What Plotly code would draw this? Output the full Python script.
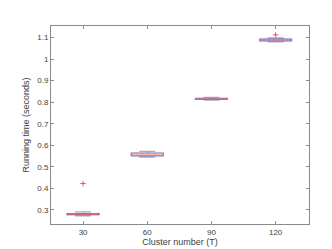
import plotly.graph_objects as go

categories = ["30", "60", "90", "120"]
q1 = [0.277, 0.551, 0.813, 1.085]
median = [0.279, 0.555, 0.815, 1.089]
q3 = [0.282, 0.563, 0.818, 1.093]
lower_whisker = [0.272, 0.545, 0.810, 1.080]
upper_whisker = [0.290, 0.571, 0.822, 1.099]
outlier_cat = ["30", "120"]
outlier_val = [0.422, 1.113]

pos = list(range(1, len(categories) + 1))
idx = {c: i + 1 for i, c in enumerate(categories)}
half = 0.25

fig = go.Figure()
# whiskers
fig.add_trace(go.Box(
    x=pos, q1=q1, median=median, q3=q3,
    lowerfence=lower_whisker, upperfence=upper_whisker,
    width=0.5, whiskerwidth=0.5,
    line=dict(color="rgba(90,90,90,0.5)", width=1.2),
    fillcolor="rgba(0,0,0,0)", boxpoints=False, showlegend=False,
    hoverinfo="skip",
))
# blue box outlines
bx, by = [], []
for p, a, b in zip(pos, q1, q3):
    bx += [p - half, p + half, p + half, p - half, p - half, None]
    by += [a, a, b, b, a, None]
fig.add_trace(go.Scatter(x=bx, y=by, mode="lines",
                         line=dict(color="rgba(40,40,255,0.55)", width=1),
                         fill="toself", fillcolor="rgba(255,255,255,1)",
                         showlegend=False, hoverinfo="skip"))
# red medians
mx, my = [], []
for p, m in zip(pos, median):
    mx += [p - half, p + half, None]
    my += [m, m, None]
fig.add_trace(go.Scatter(x=mx, y=my, mode="lines",
                         line=dict(color="rgba(255,70,70,0.7)", width=1),
                         showlegend=False, hoverinfo="skip"))
# outliers
fig.add_trace(go.Scatter(x=[idx[c] for c in outlier_cat], y=outlier_val, mode="markers",
                         marker=dict(symbol="cross-thin", size=4,
                                     line=dict(color="rgba(255,40,40,0.8)", width=1)),
                         showlegend=False, hoverinfo="skip"))

font = dict(family="Liberation Sans, Arial", size=8, color="#404040")
axis_common = dict(showline=True, linecolor="#8a8a8a", linewidth=1, mirror="ticks",
                   ticks="inside", ticklen=3, tickcolor="#8a8a8a", showgrid=False,
                   zeroline=False, tickfont=font)
fig.update_xaxes(range=[0.5, 4.52], tickvals=pos, ticktext=categories,
                 title=dict(text="Cluster number (T)", font=dict(family="Liberation Sans, Arial", size=9, color="#404040"), standoff=2),
                 **axis_common)
fig.update_yaxes(range=[0.234, 1.154], tickvals=[0.3, 0.4, 0.5, 0.6, 0.7, 0.8, 0.9, 1.0, 1.1],
                 ticktext=["0.3", "0.4", "0.5", "0.6", "0.7", "0.8", "0.9", "1", "1.1"],
                 title=dict(text="Running time (seconds)", font=dict(family="Liberation Sans, Arial", size=9, color="#404040"), standoff=6),
                 **axis_common)
fig.update_layout(width=332, height=249, margin=dict(l=43, r=31, t=18, b=28),
                  paper_bgcolor="white", plot_bgcolor="white")
fig.write_html("out.html")
